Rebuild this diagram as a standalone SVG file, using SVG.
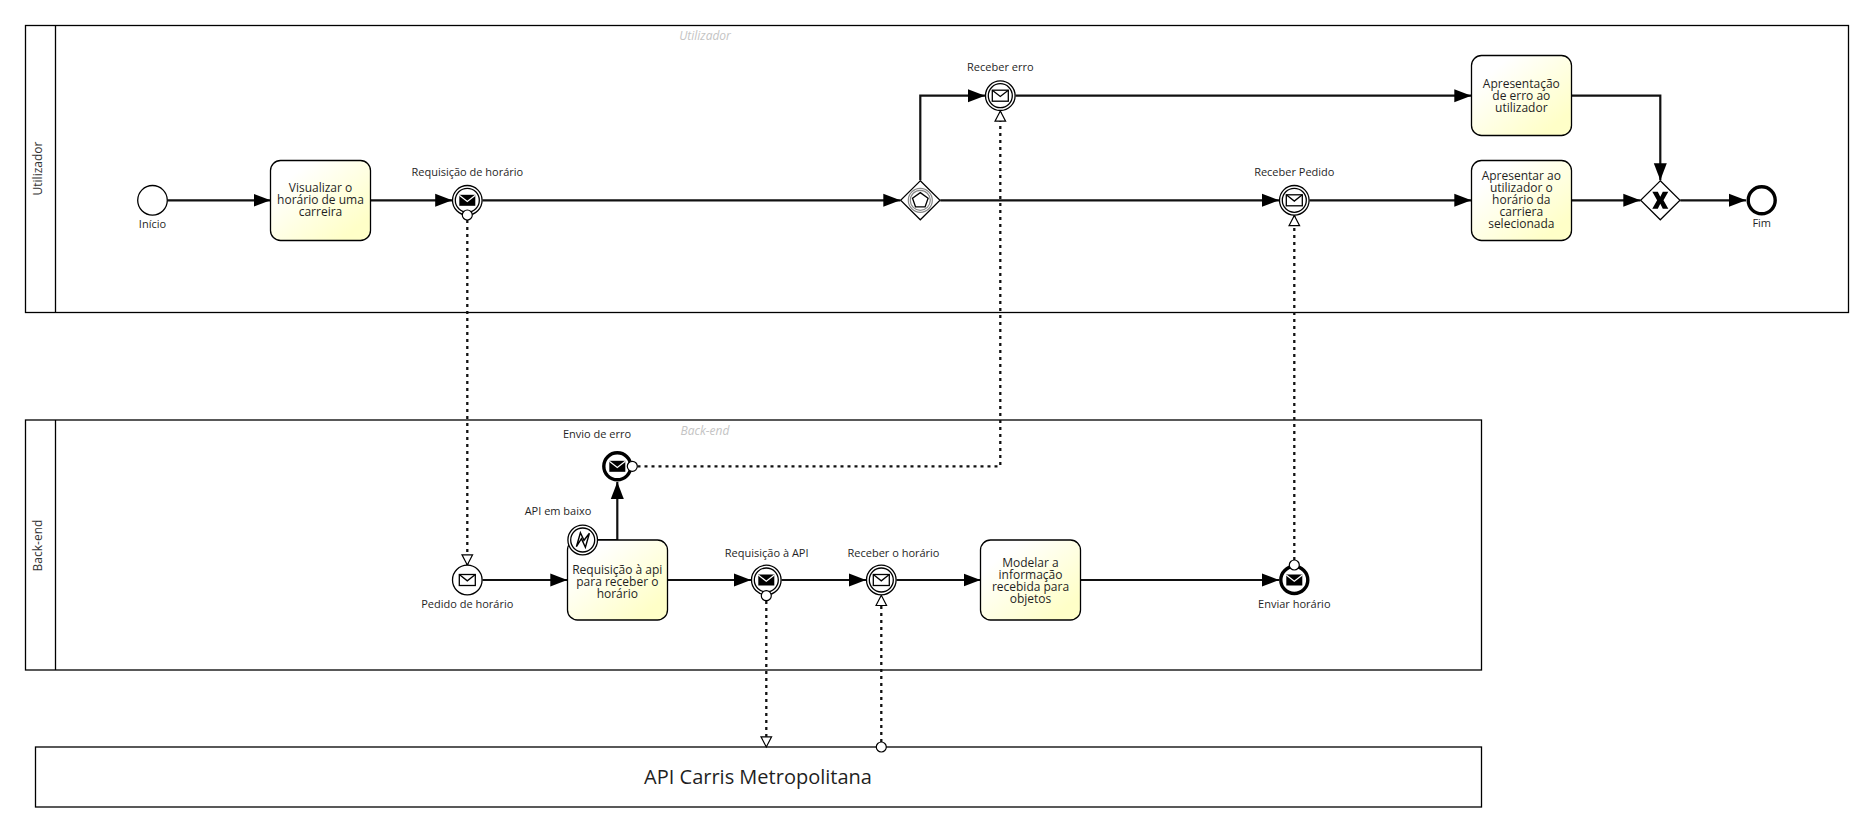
<svg xmlns="http://www.w3.org/2000/svg" xmlns:xlink="http://www.w3.org/1999/xlink" width="1873" height="833" viewBox="0 0 1873 833">
<style>
text{font-family:"Open Sans","Noto Sans","Liberation Sans",sans-serif;fill:#1f1f1f;text-anchor:middle}
.lbl{font-size:11px}
.tsk{font-size:12px}
.hdr{font-size:12px;fill:#333}
.grey{font-size:12px;font-style:italic;fill:#c4c4c4}
.pool{fill:#fff;stroke:#000;stroke-width:1.3}
.task{fill:url(#tg);stroke:#000;stroke-width:1.3}
.ev{fill:#fff;stroke:#000;stroke-width:1.3}
.thick{fill:#fff;stroke:#000;stroke-width:3.4}
.gw{fill:#fff;stroke:#000;stroke-width:1.2}
.seq{fill:none;stroke:#111;stroke-width:2.2;marker-end:url(#a)}
.msg{fill:none;stroke:#111;stroke-width:2.3;stroke-dasharray:3 4;marker-end:url(#o)}
.dot{fill:#fff;stroke:#000;stroke-width:1.2}
</style>
<defs>
<linearGradient id="tg" x1="0" y1="0" x2="1" y2="1"><stop offset="0.2" stop-color="#fff"/><stop offset="0.85" stop-color="#ffffc8"/></linearGradient>
<marker id="a" markerUnits="userSpaceOnUse" markerWidth="18" markerHeight="14" refX="17" refY="7" orient="auto"><path d="M0 .5L17 7L0 13.5z" fill="#000"/></marker>
<marker id="o" markerUnits="userSpaceOnUse" markerWidth="13" markerHeight="13" refX="11" refY="6.5" orient="auto"><path d="M.8 1.2L11 6.5L.8 11.8z" fill="#fff" stroke="#000" stroke-width="1.2"/></marker>
<g id="envO"><rect x="-8" y="-5.5" width="16" height="11" fill="#fff" stroke="#000" stroke-width="1.3"/><path d="M-8 -5.5L0 .8L8 -5.5" fill="none" stroke="#000" stroke-width="1.3"/></g>
<g id="envF"><rect x="-8" y="-5.5" width="16" height="11" fill="#000"/><path d="M-8 -5L0 1.2L8 -5" fill="none" stroke="#fff" stroke-width="1.2"/></g>
<g id="dbl"><circle r="14.8" class="ev"/><circle r="12" class="ev"/></g>
</defs>
<rect width="1873" height="833" fill="#fff"/>

<g id="pool-utilizador">
<rect class="pool" x="25.5" y="25.5" width="1823" height="287"/>
<line x1="55.5" y1="25.5" x2="55.5" y2="312.5" stroke="#000" stroke-width="1.3"/>
<text class="hdr" transform="translate(41.5 168.5) rotate(-90)">Utilizador</text>
<text class="grey" x="705" y="40">Utilizador</text>
</g>
<g id="pool-backend">
<rect class="pool" x="25.5" y="420" width="1456" height="250"/>
<line x1="55.5" y1="420" x2="55.5" y2="670" stroke="#000" stroke-width="1.3"/>
<text class="hdr" transform="translate(41.5 545.5) rotate(-90)">Back-end</text>
<text class="grey" x="705" y="435">Back-end</text>
</g>
<g id="pool-api">
<rect class="pool" x="35.5" y="747" width="1446" height="60"/>
<text x="758" y="783.5" font-size="20px">API Carris Metropolitana</text>
</g>

<g id="connectors">
<path class="seq" d="M167.5 200.3H270.5"/>
<path class="seq" d="M370.5 200.3H452.2"/>
<path class="seq" d="M482.5 200.3H900.3"/>
<path class="seq" d="M940.3 200.3H1279"/>
<path class="seq" d="M920.3 180.3V95.7H985"/>
<path class="seq" d="M1015.5 95.7H1471.3"/>
<path class="seq" d="M1309.5 200.3H1471.3"/>
<path class="seq" d="M1571.5 95.7H1660.3V180.3"/>
<path class="seq" d="M1571.5 200.3H1640.3"/>
<path class="seq" d="M1680.3 200.3H1746"/>
<path class="seq" d="M482.5 580H567.3"/>
<path class="seq" d="M667.5 580H751"/>
<path class="seq" d="M781.5 580H866"/>
<path class="seq" d="M896.5 580H980.5"/>
<path class="seq" d="M1080.7 580H1279"/>
<path class="seq" d="M598 540H617.3V482"/>
<path class="msg" d="M467.3 220V565"/>
<path class="msg" d="M637.5 466.3H1000.3V111"/>
<path class="msg" d="M1294.3 560V215.5"/>
<path class="msg" d="M766.3 601V747"/>
<path class="msg" d="M881.3 742V595.3"/>
</g>

<g id="start-inicio"><circle class="ev" cx="152.5" cy="200.3" r="14.8"/><text class="lbl" x="152.5" y="228">Início</text></g>
<g id="task-visualizar"><rect class="task" x="270.5" y="160.5" width="100" height="80" rx="10"/>
<text class="tsk" x="320.5"><tspan x="320.5" y="192">Visualizar o</tspan><tspan x="320.5" y="204">horário de uma</tspan><tspan x="320.5" y="216">carreira</tspan></text></g>
<g id="ev-requisicao-horario"><use href="#dbl" x="467.3" y="200.3"/><use href="#envF" x="467.3" y="200.3"/><circle class="dot" cx="467.3" cy="215" r="5"/><text class="lbl" x="467.3" y="176">Requisição de horário</text></g>
<g id="gw-event">
<path class="gw" d="M920.3 180.8L940 200.3L920.3 219.8L900.6 200.3z"/>
<circle cx="920.3" cy="200.3" r="12" fill="#fff" stroke="#888" stroke-width="1.2"/><circle cx="920.3" cy="200.3" r="10" fill="#fff" stroke="#888" stroke-width="1.2"/>
<path d="M920.3 192.6L928.1 198.2L925.1 206.8H915.5L912.5 198.2z" fill="#fff" stroke="#000" stroke-width="1.3"/></g>
<g id="ev-receber-erro"><use href="#dbl" x="1000.3" y="95.7"/><use href="#envO" x="1000.3" y="95.7"/><text class="lbl" x="1000.3" y="71">Receber erro</text></g>
<g id="ev-receber-pedido"><use href="#dbl" x="1294.3" y="200.3"/><use href="#envO" x="1294.3" y="200.3"/><text class="lbl" x="1294.3" y="176">Receber Pedido</text></g>
<g id="task-erro"><rect class="task" x="1471.5" y="55.5" width="100" height="80" rx="10"/>
<text class="tsk" x="1521.3"><tspan x="1521.3" y="87.5">Apresentação</tspan><tspan x="1521.3" y="99.5">de erro ao</tspan><tspan x="1521.3" y="111.5">utilizador</tspan></text></g>
<g id="task-horario"><rect class="task" x="1471.5" y="160.5" width="100" height="80" rx="10"/>
<text class="tsk" x="1521.3"><tspan x="1521.3" y="180">Apresentar ao</tspan><tspan x="1521.3" y="192">utilizador o</tspan><tspan x="1521.3" y="204">horário da</tspan><tspan x="1521.3" y="216">carriera</tspan><tspan x="1521.3" y="228">selecionada</tspan></text></g>
<g id="gw-xor"><path class="gw" d="M1660.3 180.8L1680 200.3L1660.3 219.8L1640.6 200.3z"/>
<path d="M1652.3 191.8H1657.8L1660.3 196.8L1662.8 191.8H1668.3L1663.5 200.3L1668.3 208.8H1662.8L1660.3 203.8L1657.8 208.8H1652.3L1657.1 200.3z" fill="#000"/></g>
<g id="end-fim"><circle class="thick" cx="1761.7" cy="200.3" r="13.5"/><text class="lbl" x="1761.7" y="227">Fim</text></g>

<g id="ev-pedido-horario"><circle class="ev" cx="467.3" cy="580" r="14.8"/><use href="#envO" x="467.3" y="580"/><text class="lbl" x="467.3" y="608">Pedido de horário</text></g>
<g id="task-requisicao-api"><rect class="task" x="567.5" y="540" width="100" height="80" rx="10"/>
<text class="tsk" x="617.3"><tspan x="617.3" y="573.5">Requisição à api</tspan><tspan x="617.3" y="585.5">para receber o</tspan><tspan x="617.3" y="597.5">horário</tspan></text></g>
<g id="boundary-api-baixo"><use href="#dbl" x="582.7" y="540"/>
<path d="M576.4 546.7L580.4 532.7L584 540.3L589.4 533.3L585.4 547.3L581.4 538.7z" fill="#fff" stroke="#000" stroke-width="1.4" stroke-linejoin="miter"/><text class="lbl" x="558" y="515">API em baixo</text></g>
<g id="ev-envio-erro"><circle class="thick" cx="617.3" cy="466.3" r="13.5"/><use href="#envF" x="617.3" y="466.3"/><circle class="dot" cx="632.3" cy="466.3" r="5"/><text class="lbl" x="597" y="437.5">Envio de erro</text></g>
<g id="ev-requisicao-api"><use href="#dbl" x="766.3" y="580"/><use href="#envF" x="766.3" y="580"/><circle class="dot" cx="766.3" cy="595.7" r="5"/><text class="lbl" x="766.7" y="557">Requisição à API</text></g>
<g id="ev-receber-horario"><use href="#dbl" x="881.3" y="580"/><use href="#envO" x="881.3" y="580"/><text class="lbl" x="893.5" y="557">Receber o horário</text></g>
<g id="task-modelar"><rect class="task" x="980.5" y="540" width="100" height="80" rx="10"/>
<text class="tsk" x="1030.5"><tspan x="1030.5" y="567">Modelar a</tspan><tspan x="1030.5" y="579">informação</tspan><tspan x="1030.5" y="591">recebida para</tspan><tspan x="1030.5" y="603">objetos</tspan></text></g>
<g id="ev-enviar-horario"><circle class="thick" cx="1294.3" cy="580" r="13.5"/><use href="#envF" x="1294.3" y="580"/><circle class="dot" cx="1294.3" cy="565" r="5"/><text class="lbl" x="1294.3" y="608">Enviar horário</text></g>
<g id="msg-api-dot"><circle class="dot" cx="881.3" cy="747" r="5"/></g>
</svg>
